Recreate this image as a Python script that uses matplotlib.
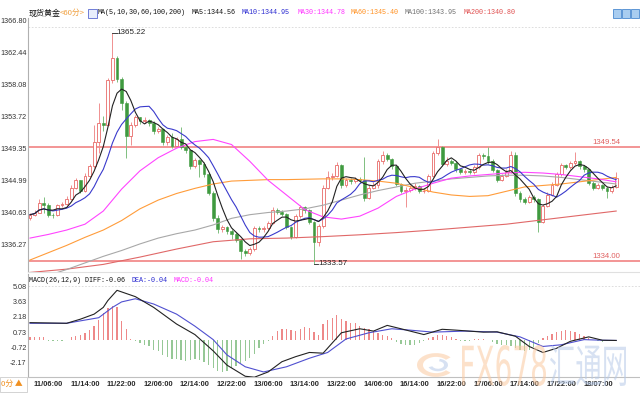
import numpy as np
import pandas as pd
import matplotlib
matplotlib.use("Agg")
import matplotlib.pyplot as plt
from matplotlib.patches import Rectangle, PathPatch, Wedge
from matplotlib.textpath import TextPath
from matplotlib.font_manager import FontProperties
import matplotlib.transforms as mtransforms

plt.rcParams['font.family'] = ['Liberation Sans', 'Noto Sans CJK SC', 'DejaVu Sans']

# 60 minute candles, spot gold
first_open = 1339.9
close = [1340.3, 1340.6, 1341.9, 1341.6, 1340.3, 1340.2, 1341.6, 1341.8, 1342.5, 1344.0,
         1345.0, 1343.6, 1345.6, 1346.9, 1350.2, 1352.8, 1352.6, 1358.7, 1361.7, 1358.8,
         1355.6, 1351.0, 1352.6, 1353.6, 1353.1, 1353.3, 1352.9, 1351.7, 1352.0, 1350.2,
         1350.9, 1349.7, 1350.6, 1349.6, 1349.1, 1346.9, 1347.8, 1347.3, 1345.8, 1343.3,
         1339.9, 1338.3, 1338.6, 1338.1, 1337.6, 1336.9, 1335.3, 1335.0, 1335.6, 1338.5,
         1338.3, 1338.5, 1339.2, 1341.0, 1340.7, 1340.4, 1338.6, 1337.3, 1340.1, 1341.3,
         1341.0, 1339.3, 1336.5, 1338.7, 1344.0, 1345.5, 1345.6, 1347.1, 1344.3, 1345.0,
         1344.9, 1345.2, 1345.0, 1342.6, 1344.0, 1344.4, 1347.6, 1348.5, 1347.9, 1346.9,
         1344.5, 1343.5, 1343.7, 1343.9, 1344.2, 1343.5, 1343.6, 1345.6, 1348.7, 1349.5,
         1347.2, 1347.6, 1347.4, 1346.5, 1346.2, 1346.3, 1346.1, 1346.8, 1348.4, 1348.3,
         1347.6, 1346.4, 1345.1, 1345.6, 1346.2, 1348.4, 1343.3, 1342.4, 1342.1, 1342.7,
         1342.5, 1339.3, 1341.5, 1343.0, 1344.4, 1345.8, 1347.1, 1346.8, 1347.4, 1347.6,
         1346.9, 1346.5, 1344.7, 1344.0, 1344.3, 1344.0, 1343.5, 1344.1, 1345.3]
high = [1340.6, 1340.9, 1342.4, 1342.7, 1341.9, 1340.6, 1341.8, 1342.1, 1342.8, 1344.4,
        1345.3, 1345.1, 1346.0, 1347.2, 1352.6, 1355.6, 1353.8, 1359.0, 1365.22, 1362.0,
        1359.2, 1355.8, 1353.0, 1353.9, 1353.6, 1353.6, 1353.4, 1353.1, 1352.3, 1352.1,
        1351.2, 1351.5, 1350.9, 1352.3, 1349.9, 1349.2, 1348.0, 1347.9, 1347.5, 1346.0,
        1343.6, 1340.3, 1338.9, 1338.8, 1338.4, 1337.9, 1337.0, 1335.6, 1335.9, 1338.8,
        1338.7, 1338.8, 1339.5, 1341.3, 1341.2, 1340.9, 1340.5, 1338.8, 1340.4, 1341.6,
        1341.5, 1341.1, 1339.4, 1339.0, 1344.3, 1346.3, 1346.0, 1347.5, 1347.3, 1345.3,
        1345.3, 1345.5, 1345.4, 1348.2, 1344.3, 1344.8, 1347.9, 1349.0, 1348.7, 1348.0,
        1347.0, 1344.6, 1344.1, 1344.3, 1344.6, 1344.4, 1344.0, 1345.9, 1349.0, 1350.7,
        1349.7, 1348.2, 1347.9, 1347.6, 1346.7, 1346.6, 1346.5, 1347.1, 1348.7, 1348.8,
        1349.6, 1347.9, 1346.5, 1345.9, 1346.5, 1349.0, 1348.9, 1343.5, 1342.7, 1343.0,
        1343.0, 1342.6, 1341.8, 1343.4, 1344.8, 1346.1, 1347.4, 1347.3, 1347.7, 1348.9,
        1347.8, 1347.1, 1346.6, 1344.9, 1344.6, 1344.5, 1344.2, 1344.4, 1346.1]
low = [1339.6, 1340.1, 1340.5, 1340.6, 1340.0, 1339.9, 1340.1, 1341.4, 1341.6, 1342.3,
       1343.8, 1343.3, 1343.4, 1345.5, 1346.7, 1348.8, 1351.8, 1352.4, 1358.3, 1358.4,
       1354.6, 1348.1, 1349.8, 1352.3, 1352.7, 1352.9, 1352.5, 1351.4, 1351.5, 1349.9,
       1349.9, 1349.4, 1349.5, 1349.3, 1348.8, 1346.6, 1346.7, 1345.5, 1345.5, 1343.0,
       1339.5, 1337.8, 1337.9, 1337.7, 1337.0, 1336.6, 1334.2, 1334.6, 1334.8, 1335.3,
       1337.9, 1338.0, 1338.2, 1339.0, 1340.4, 1340.1, 1338.3, 1337.0, 1337.1, 1339.9,
       1340.6, 1339.0, 1333.57, 1336.0, 1338.5, 1343.8, 1345.1, 1345.4, 1344.0, 1344.1,
       1344.5, 1344.7, 1344.6, 1342.2, 1342.4, 1343.8, 1344.0, 1347.3, 1347.6, 1346.6,
       1344.2, 1343.2, 1341.4, 1343.4, 1343.7, 1343.2, 1343.2, 1343.4, 1345.4, 1348.4,
       1346.9, 1347.0, 1347.1, 1346.2, 1345.9, 1345.9, 1345.8, 1345.9, 1346.5, 1347.9,
       1347.3, 1346.1, 1344.8, 1344.9, 1345.4, 1346.0, 1342.8, 1342.1, 1341.8, 1341.9,
       1342.1, 1338.0, 1339.1, 1341.3, 1342.8, 1344.2, 1345.6, 1346.5, 1346.6, 1347.1,
       1346.6, 1346.2, 1344.4, 1343.7, 1343.8, 1343.7, 1342.6, 1343.3, 1343.9]

x_labels = ["11/06:00", "11/14:00", "11/22:00", "12/06:00", "12/14:00", "12/22:00",
            "13/06:00", "13/14:00", "13/22:00", "14/06:00", "16/14:00", "16/22:00",
            "17/06:00", "17/14:00", "17/22:00", "18/07:00"]
x_label_pos = [4, 12, 20, 28, 36, 44, 52, 60, 68, 76, 84, 92, 100, 108, 116, 124]

price_ticks = [1336.27, 1340.63, 1344.99, 1349.35, 1353.72, 1358.08, 1362.44, 1366.80]
macd_ticks = [-2.17, -0.72, 0.73, 2.18, 3.63, 5.08]
level_hi = 1349.54
level_lo = 1334.00

# long moving averages (every 4th candle; MA200 every 8th)
ma_idx = list(range(0, 129, 4))
ma30 = [1337.1, 1337.6, 1338.2, 1339.0, 1340.8, 1343.8, 1346.3, 1348.1, 1349.4, 1350.3,
        1350.6, 1349.9, 1347.6, 1345.0, 1343.0, 1341.0, 1340.0, 1339.7, 1340.1, 1341.2,
        1342.8, 1343.8, 1344.6, 1345.3, 1345.6, 1345.8, 1346.0, 1346.1, 1346.0, 1345.8,
        1345.5, 1345.2, 1344.8]
ma60 = [1334.1, 1335.1, 1336.1, 1337.2, 1338.2, 1339.5, 1341.1, 1342.3, 1343.2, 1343.9,
        1344.5, 1344.9, 1345.0, 1345.1, 1345.1, 1345.15, 1345.2, 1345.2, 1345.1, 1344.9,
        1344.6, 1344.0, 1343.4, 1343.0, 1342.8, 1342.9, 1343.5, 1344.1, 1344.3, 1344.5,
        1344.8, 1345.1, 1345.4]
ma100 = [1331.2, 1332.0, 1332.8, 1333.7, 1334.6, 1335.4, 1336.3, 1337.1, 1337.7, 1338.2,
         1338.9, 1339.8, 1340.3, 1340.6, 1340.8, 1341.1, 1341.6, 1342.3, 1343.0, 1343.6,
         1344.1, 1344.6, 1344.9, 1345.2, 1345.4, 1345.6, 1345.7, 1345.7, 1345.6, 1345.4,
         1345.1, 1344.8, 1344.5]
ma200_idx = [0, 8, 16, 24, 32, 40, 48, 56, 64, 72, 80, 88, 96, 104, 112, 120, 128]
ma200 = [1332.4, 1332.85, 1333.5, 1334.5, 1335.6, 1336.6, 1337.0, 1337.1, 1337.3,
         1337.55, 1337.85, 1338.2, 1338.6, 1339.0, 1339.6, 1340.2, 1340.8]

# MACD(26,12,9)
diff_idx = [0, 8, 11, 14, 16, 17, 19, 23, 27, 32, 36, 40, 43, 47, 49, 52, 55, 58, 61, 64,
            66, 68, 72, 75, 78, 81, 86, 90, 93, 99, 102, 106, 109, 112, 115, 118, 122, 125, 128]
diff_val = [1.63, 1.57, 1.96, 2.44, 3.08, 3.73, 4.7, 4.1, 3.08, 1.5, 0.5, -1.05, -2.4, -3.46,
            -3.55, -3.05, -2.08, -1.6, -1.2, -1.27, -0.3, 0.67, 1.05, 0.83, 1.37, 1.05, 0.5,
            1.0, 0.92, 0.73, 0.76, 0.34, -0.63, -1.2, -0.8, -0.14, 0.28, -0.04, -0.06]
dea_idx = [0, 8, 11, 15, 18, 20, 23, 27, 32, 36, 40, 43, 47, 51, 56, 61, 65, 69, 74, 79,
           83, 88, 95, 102, 107, 112, 116, 121, 125, 128]
dea_val = [1.57, 1.57, 1.8, 2.1, 3.08, 3.6, 3.9, 3.4, 2.44, 1.3, 0.02, -1.43, -2.56, -3.05,
           -2.56, -1.75, -1.2, 0.08, 0.67, 1.05, 0.92, 0.73, 0.83, 0.73, 0.28, -0.63, -0.47,
           0.02, -0.04, -0.06]
macd_hist = [0.25, 0.25, 0.3, 0.3, -0.1, -0.15, -0.12, -0.1, -0.05,
             0.28, 0.34, 0.44, 0.67, 0.92, 1.31, 1.89, 2.5, 3.0, 3.2, 3.1, 1.8, 1.0, 0.1,
             -0.15, -0.3, -0.45, -0.6, -0.95, -1.1, -1.4, -1.6, -1.8, -1.85, -1.9, -2.0,
             -1.9, -1.85, -1.9, -2.1, -2.4, -2.7, -3.0, -3.1, -3.0, -2.7, -2.5, -2.2,
             -2.05, -1.75, -1.3, -0.8, -0.4, -0.15,
             0.35, 0.8, 1.05, 1.0, 0.95, 0.85, 1.05, 1.25, 1.15, 0.73, 0.5,
             1.5, 1.9, 2.1, 2.35, 2.0, 1.8, 1.6, 1.6,
             1.3, 1.15, 1.0, 0.8, 0.65, 0.5, 0.35, 0.2,
             -0.2, -0.35, -0.45, -0.5, -0.45, -0.3,
             -0.1,
             0.15, 0.3, 0.45, 0.5, 0.4, 0.25,
             0.1, -0.1, -0.15, -0.1, 0.05, 0.1, 0.1, -0.05, -0.2,
             -0.35, -0.45, -0.5, -0.6, -0.8, -1.0, -1.05, -0.95, -0.7,
             -0.3,
             0.2, 0.4, 0.55, 0.7, 0.85, 0.9, 0.85, 0.75, 0.6, 0.4,
             0.15, -0.05, -0.15, -0.2, -0.15, -0.1, -0.04]

# derived
c = np.array(close)
o = np.array([first_open] + close[:-1])
hi = np.array(high)
lo = np.array(low)
idx = np.arange(len(c))
ma5 = pd.Series(c).rolling(5, min_periods=1).mean()
ma10 = pd.Series(c).rolling(10, min_periods=1).mean()
hist = np.array(macd_hist)

W, H = 640, 400
fig = plt.figure(figsize=(6.4, 4.0), dpi=100)
fig.patch.set_facecolor('white')


def fx(px):
    return px / W


def fy(py):
    return 1 - py / H


ax = fig.add_axes([fx(28), fy(272), fx(640) - fx(28), fy(18) - fy(272)])
axm = fig.add_axes([fx(28), fy(377), fx(640) - fx(28), fy(274) - fy(377)])

RED = '#e86a68'
GREEN = '#3f9a3f'
xl = (-0.44, 133.2)

# candles
up = c >= o
ax.vlines(idx[up], lo[up], hi[up], color='#f09090', lw=0.7, zorder=2)
ax.vlines(idx[~up], lo[~up], hi[~up], color='#7fbf7f', lw=0.7, zorder=2)
body = np.maximum(np.abs(c - o), 0.06)
ax.bar(idx[up], body[up], bottom=np.minimum(o, c)[up], width=0.62,
       facecolor='white', edgecolor=RED, lw=0.6, zorder=3)
ax.bar(idx[~up], body[~up], bottom=np.minimum(o, c)[~up], width=0.62,
       facecolor=GREEN, edgecolor=GREEN, lw=0.4, zorder=3)

# moving averages
ax.plot(ma200_idx, ma200, color='#e06868', lw=0.8, zorder=4)
ax.plot(ma_idx, ma100, color='#a8a8a8', lw=0.8, zorder=4)
ax.plot(ma_idx, ma60, color='#ff9c3a', lw=0.8, zorder=4)
ax.plot(ma_idx, ma30, color='#ff44ff', lw=0.8, zorder=4)
ax.plot(idx, ma10, color='#3a3acc', lw=0.8, zorder=4)
ax.plot(idx, ma5, color='#222222', lw=0.8, zorder=4)

for lv in (level_hi, level_lo):
    ax.axhline(lv, color='#f07878', lw=1.1, zorder=1)
    ax.text(128.9, lv + 0.15, '%.2f' % lv, ha='right', va='bottom',
            color='#e06060', fontsize=5.6)

# high / low marks
imax = int(np.argmax(hi))
imin = int(np.argmin(lo))
ax.plot([imax, imax + 0.9], [hi[imax], hi[imax]], color='#222', lw=0.6, zorder=5)
ax.text(imax + 0.9, hi[imax], '%.2f' % hi[imax], va='center', ha='left',
        fontsize=5.8, color='#222', zorder=5)
ax.plot([imin, imin + 0.9], [lo[imin], lo[imin]], color='#222', lw=0.6, zorder=5)
ax.text(imin + 0.9, lo[imin], '%.2f' % lo[imin], va='center', ha='left',
        fontsize=5.8, color='#222', zorder=5)

ax.axhline(1366.0, color='#d8d8d8', lw=0.6, ls=(0, (2, 2)), zorder=0)
ax.set_xlim(*xl)
ax.set_ylim(1332.46, 1367.21)
ax.set_yticks(price_ticks)
ax.set_yticklabels(['%.2f' % t for t in price_ticks])
ax.set_xticks([])
ax.tick_params(axis='y', length=0, pad=1, labelsize=5.2, labelcolor='#333333')
for s in ('top', 'right'):
    ax.spines[s].set_visible(False)
ax.spines['left'].set_color('#b0b0b0')
ax.spines['bottom'].set_color('#e0e0e0')

# MACD panel
axm.bar(idx[hist >= 0], hist[hist >= 0], width=0.28, color='#ee8888', zorder=2)
axm.bar(idx[hist < 0], hist[hist < 0], width=0.28, color='#96c896', zorder=2)
axm.plot(dea_idx, dea_val, color='#5050d0', lw=0.8, zorder=3)
axm.plot(diff_idx, diff_val, color='#222222', lw=0.8, zorder=4)
axm.axhline(5.08, color='#d8d8d8', lw=0.6, ls=(0, (2, 2)), zorder=0)
axm.set_xlim(*xl)
axm.set_ylim(-3.53, 6.25)
axm.set_yticks(macd_ticks)
axm.set_yticklabels(['%.2f' % t for t in macd_ticks])
axm.set_xticks(x_label_pos)
axm.set_xticklabels(x_labels, fontweight='bold')
axm.tick_params(axis='y', length=0, pad=1, labelsize=5.2, labelcolor='#333333')
axm.tick_params(axis='x', length=0, pad=3, labelsize=5.4, labelcolor='#2a2a2a')
for s in ('top', 'right'):
    axm.spines[s].set_visible(False)
axm.spines['left'].set_color('#b0b0b0')
axm.spines['bottom'].set_color('#c0c0c0')

# header legends
mono = ['Liberation Mono', 'Noto Sans CJK SC']
fig.text(fx(29), fy(13), '现货黄金', fontsize=5.8, color='#111', va='center',
         family=['Noto Sans CJK SC', 'DejaVu Sans'])
fig.text(fx(60), fy(13), '<60分>', fontsize=5.6, color='#f0a040', va='center',
         family=['Noto Sans CJK SC', 'DejaVu Sans'])
fig.add_artist(Rectangle((fx(88), fy(18)), fx(9), 9 / H, transform=fig.transFigure,
                         facecolor='#e8eefc', edgecolor='#5a6ad0', lw=0.6))
header = [(98, 'MA(5,10,30,60,100,200)', '#111111'),
          (192, 'MA5:1344.56', '#111111'),
          (242, 'MA10:1344.95', '#2828d0'),
          (298, 'MA30:1344.78', '#ff30ff'),
          (351, 'MA60:1345.40', '#ff9020'),
          (405, 'MA100:1343.95', '#707070'),
          (464, 'MA200:1340.80', '#e05050')]
for px, s, col in header:
    fig.text(fx(px), fy(13), s, fontsize=4.9, color=col, va='center', family=mono)
for k in range(3):
    fig.add_artist(Rectangle((fx(613 + 9 * k), fy(18)), fx(8), 9 / H,
                             transform=fig.transFigure, facecolor='#a9cdf0',
                             edgecolor='#4a8ad0', lw=0.6))

macd_leg = [(29, 'MACD(26,12,9) DIFF:-0.06', '#111111'),
            (131, 'DEA:-0.04', '#2828d0'),
            (174, 'MACD:-0.04', '#ff30ff')]
for px, s, col in macd_leg:
    fig.text(fx(px), fy(281), s, fontsize=4.9, color=col, va='center', family=mono)

# bottom-left period button
fig.add_artist(Rectangle((0, fy(392)), fx(27), 15 / H, transform=fig.transFigure,
                         facecolor='white', edgecolor='#cccccc', lw=0.6))
fig.text(fx(1), fy(384), '0分 ▲', fontsize=5.6, color='#f09020', va='center',
         family=['Noto Sans CJK SC', 'DejaVu Sans'])


# watermark
def stretched(s, x0, x1, y0, y1, color, family, weight='normal'):
    tp = TextPath((0, 0), s, size=100, prop=FontProperties(family=family, weight=weight))
    bb = tp.get_extents()
    tr = (mtransforms.Affine2D().translate(-bb.x0, -bb.y0)
          .scale((x1 - x0) / bb.width, (y1 - y0) / bb.height)
          .translate(x0, H - y1).scale(1 / W, 1 / H))
    fig.add_artist(PathPatch(tr.transform_path(tp), facecolor=color, edgecolor='none',
                             transform=fig.transFigure, alpha=0.55, zorder=10))


stretched('FX678', 462, 546, 345, 386, '#fbc9a0', 'DejaVu Sans')
stretched('汇通网', 550, 626, 345, 386, '#b7cae8', 'Noto Sans CJK SC')
fig.add_artist(Wedge((fx(436), fy(365)), 19 / W, 40, 320, width=6 / W,
                     transform=fig.transFigure, facecolor='#fbc9a0',
                     edgecolor='none', alpha=0.55, zorder=10))
fig.add_artist(Wedge((fx(438), fy(365)), 10 / W, 200, 80, width=4 / W,
                     transform=fig.transFigure, facecolor='#b7cae8',
                     edgecolor='none', alpha=0.55, zorder=10))

fig.savefig('out.png', dpi=100, facecolor='white')
